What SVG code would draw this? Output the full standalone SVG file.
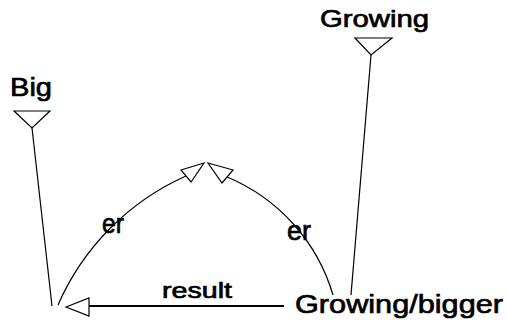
<svg xmlns="http://www.w3.org/2000/svg" width="506" height="327" viewBox="0 0 506 327">
<style>
text{font-family:"Liberation Sans",Arial,sans-serif;fill:#000;stroke:#000;stroke-width:0.7;}
.ln{fill:none;stroke:#000;stroke-width:1.2;}
.hd{fill:#fff;stroke:#000;stroke-width:1.2;}
</style>
<rect width="506" height="327" fill="#fff"/>
<g id="connectors">
<line class="ln" x1="32" y1="128" x2="52" y2="306"/>
<line class="ln" x1="371" y1="55" x2="351" y2="295"/>
<path class="ln" d="M58 305 A251 251 0 0 1 186 176"/>
<polygon class="hd" points="204,163 181,170 191,182"/>
<path class="ln" d="M333 295 A184 184 0 0 0 227 177"/>
<polygon class="hd" points="208,163 233,170 222,183"/>
<line x1="89" y1="306" x2="284" y2="306" stroke="#000" stroke-width="2"/>
<polygon class="hd" points="66,307 89,298 89,316"/>
<text x="102" y="233" font-size="27" textLength="22" lengthAdjust="spacingAndGlyphs">er</text>
<text x="287" y="240" font-size="27" textLength="24" lengthAdjust="spacingAndGlyphs">er</text>
<text x="162" y="298" font-size="22" textLength="70" lengthAdjust="spacingAndGlyphs">result</text>
</g>
<g id="node-big">
<text x="10" y="96" font-size="26" textLength="42" lengthAdjust="spacingAndGlyphs">Big</text>
<polygon class="hd" points="14,111 50,111 32,128"/>
</g>
<g id="node-growing">
<text x="320" y="27" font-size="24" textLength="109" lengthAdjust="spacingAndGlyphs">Growing</text>
<polygon class="hd" points="355,38 392,38 371,55"/>
</g>
<g id="node-growing-bigger">
<text x="295" y="313" font-size="26" textLength="208" lengthAdjust="spacingAndGlyphs">Growing/bigger</text>
</g>
</svg>
